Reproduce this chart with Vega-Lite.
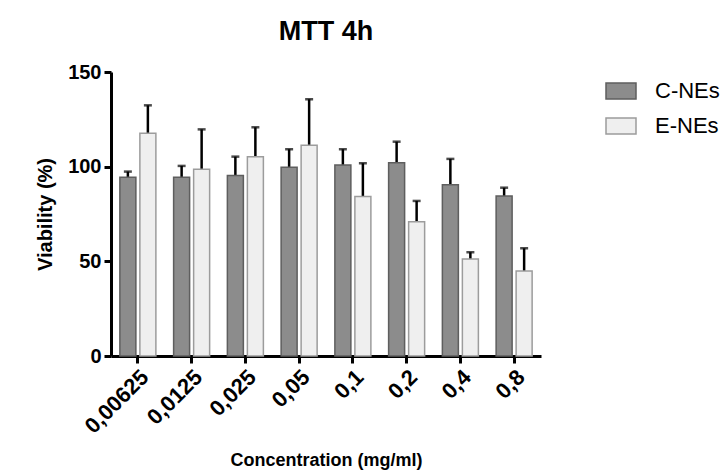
{
  "$schema": "https://vega.github.io/schema/vega-lite/v6.json",
  "autosize": {"type": "none"},
  "width": 430,
  "height": 284,
  "padding": {"left": 111, "top": 72, "right": 187, "bottom": 119},
  "background": "white",
  "title": {"text": "MTT 4h", "font": "Liberation Sans", "fontSize": 27, "fontWeight": "bold", "color": "black", "offset": 16, "anchor": "middle"},
  "config": {
    "view": {"stroke": null},
    "axis": {"labelFont": "Liberation Sans", "labelFontWeight": "bold", "labelFontSize": 20, "labelColor": "black", "titleFont": "Liberation Sans", "titleFontWeight": "bold", "titleFontSize": 18, "titleColor": "black", "domainColor": "black", "domainWidth": 3, "tickColor": "black", "tickWidth": 3, "grid": false}
  },
  "data": {"values": [
    {"conc": "0,00625", "group": "C-NEs", "mean": 94.4, "upper": 97.4},
    {"conc": "0,00625", "group": "E-NEs", "mean": 117.6, "upper": 132.4},
    {"conc": "0,0125", "group": "C-NEs", "mean": 94.4, "upper": 100.4},
    {"conc": "0,0125", "group": "E-NEs", "mean": 98.6, "upper": 119.7},
    {"conc": "0,025", "group": "C-NEs", "mean": 95.4, "upper": 105.3},
    {"conc": "0,025", "group": "E-NEs", "mean": 105.3, "upper": 120.8},
    {"conc": "0,05", "group": "C-NEs", "mean": 99.7, "upper": 109.2},
    {"conc": "0,05", "group": "E-NEs", "mean": 111.3, "upper": 135.6},
    {"conc": "0,1", "group": "C-NEs", "mean": 100.9, "upper": 109.2},
    {"conc": "0,1", "group": "E-NEs", "mean": 84.2, "upper": 101.8},
    {"conc": "0,2", "group": "C-NEs", "mean": 102.1, "upper": 113.2},
    {"conc": "0,2", "group": "E-NEs", "mean": 70.9, "upper": 81.9},
    {"conc": "0,4", "group": "C-NEs", "mean": 90.5, "upper": 104.1},
    {"conc": "0,4", "group": "E-NEs", "mean": 51.2, "upper": 54.8},
    {"conc": "0,8", "group": "C-NEs", "mean": 84.5, "upper": 88.9},
    {"conc": "0,8", "group": "E-NEs", "mean": 44.9, "upper": 56.9}
  ]},
  "encoding": {
    "x": {"field": "conc", "type": "nominal", "sort": null,
      "scale": {"paddingInner": 0.33, "paddingOuter": 0.165},
      "axis": {"title": "Concentration (mg/ml)", "labelAngle": -45, "labelFontSize": 22, "tickSize": 7, "labelPadding": 3, "titlePadding": 14}},
    "xOffset": {"field": "group", "type": "nominal", "scale": {"paddingInner": 0.2, "paddingOuter": 0}}
  },
  "layer": [
    {
      "mark": {"type": "rule", "color": "black", "strokeWidth": 2.5},
      "encoding": {
        "y": {"field": "mean", "type": "quantitative", "scale": {"domain": [0, 150], "nice": false}},
        "y2": {"field": "upper"}
      }
    },
    {
      "mark": {"type": "tick", "color": "black", "thickness": 2.5, "size": 8, "orient": "horizontal"},
      "encoding": {
        "y": {"field": "upper", "type": "quantitative", "scale": {"domain": [0, 150], "nice": false}}
      }
    },
    {
      "mark": {"type": "bar", "strokeWidth": 1.5},
      "encoding": {
        "y": {"field": "mean", "type": "quantitative",
          "scale": {"domain": [0, 150], "nice": false},
          "axis": {"title": "Viability (%)", "titleFontSize": 20, "values": [0, 50, 100, 150], "tickSize": 7, "labelPadding": 3, "titlePadding": 12}},
        "fill": {"field": "group", "type": "nominal",
          "scale": {"domain": ["C-NEs", "E-NEs"], "range": ["#8c8c8c", "#efefef"]},
          "legend": {"title": null, "orient": "none", "legendX": 494, "legendY": 3,
            "symbolType": "M-1,-0.53H1V0.53H-1Z", "symbolSize": 900, "symbolStrokeWidth": 1.5,
            "labelFont": "Liberation Sans", "labelFontSize": 22, "labelColor": "black", "labelOffset": 18, "rowPadding": 8}},
        "stroke": {"field": "group", "type": "nominal",
          "scale": {"domain": ["C-NEs", "E-NEs"], "range": ["#5e5e5e", "#9c9c9c"]}}
      }
    }
  ]
}
